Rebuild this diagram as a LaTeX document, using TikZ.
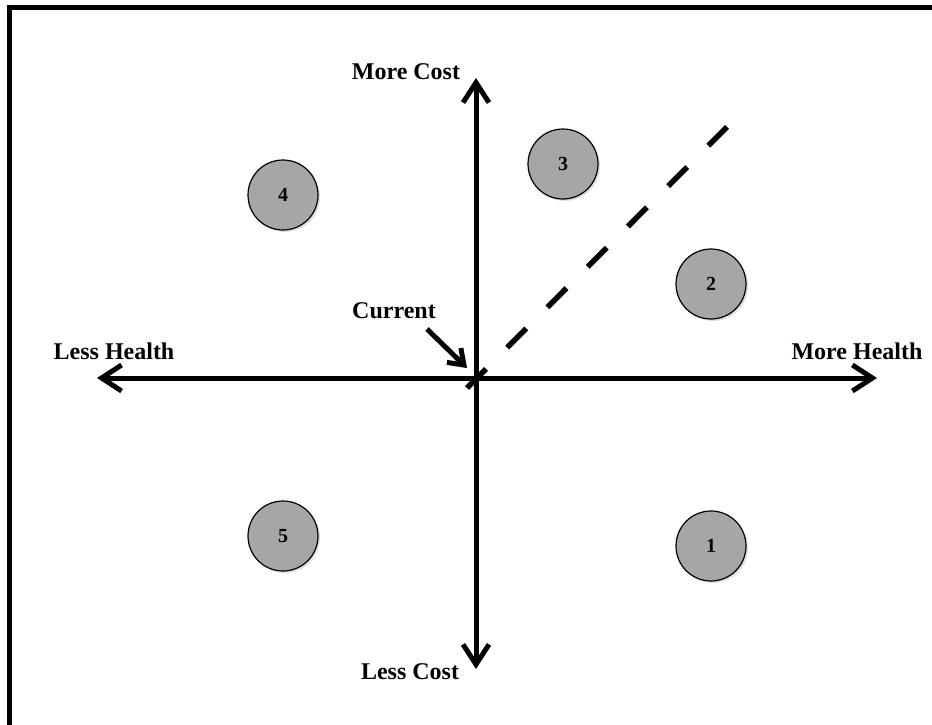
\documentclass[tikz,border=0pt]{standalone}
\usepackage{fontspec}
\setmainfont{Liberation Serif}
\usetikzlibrary{arrows.meta,shadows}

\tikzset{
  axisline/.style={line width=5pt, {Straight Barb[length=20pt,width=26pt]}-{Straight Barb[length=20pt,width=26pt]}},
  option/.style={circle, draw=black, line width=1.2pt, fill=black!35, minimum size=70pt, inner sep=0pt,
                 font=\fontsize{20}{22}\selectfont\bfseries,
                 drop shadow={opacity=0.25, shadow xshift=2pt, shadow yshift=-2pt}},
  axislabel/.style={font=\fontsize{24}{26}\selectfont\bfseries, inner sep=0pt},
}

\begin{document}
\begin{tikzpicture}[x=1pt, y=-1pt]
  \useasboundingbox (0,0) rectangle (932,725);

  % frame (left and top edges)
  \draw[line width=5pt, line cap=rect] (9.5,725) -- (9.5,7.5) -- (932,7.5);

  % axis end points and origin
  \coordinate (O) at (476,378);
  \coordinate (W) at (97,378);
  \coordinate (E) at (877,378);
  \coordinate (N) at (476,78);
  \coordinate (S) at (476,669);

  % axes
  \draw[axisline] (W) -- (E);
  \draw[axisline] (S) -- (N);

  % indifference line
  \coordinate (D0) at (467,388);
  \coordinate (D1) at (727,127);
  \draw[line width=5.5pt, dash pattern=on 27pt off 30pt] (D0) -- (D1);

  % axis labels
  \node[axislabel] (morecost) at (406,72) {More Cost};
  \node[axislabel] (lesscost) at (410,672) {Less Cost};
  \node[axislabel] (lesshealth) at (114,351) {Less Health};
  \node[axislabel] (morehealth) at (857,351) {More Health};

  % current position
  \node[axislabel] (current) at (394,311) {Current};
  \coordinate (cur0) at (427,329);
  \coordinate (cur1) at (467,368);
  \draw[line width=5pt, -{Straight Barb[length=14pt,width=20pt]}] (cur0) -- (cur1);

  % options
  \node[option] (o3) at (563,164) {3};
  \node[option] (o4) at (283,195) {4};
  \node[option] (o2) at (711,284) {2};
  \node[option] (o5) at (283,536) {5};
  \node[option] (o1) at (711,546) {1};
\end{tikzpicture}
\end{document}
